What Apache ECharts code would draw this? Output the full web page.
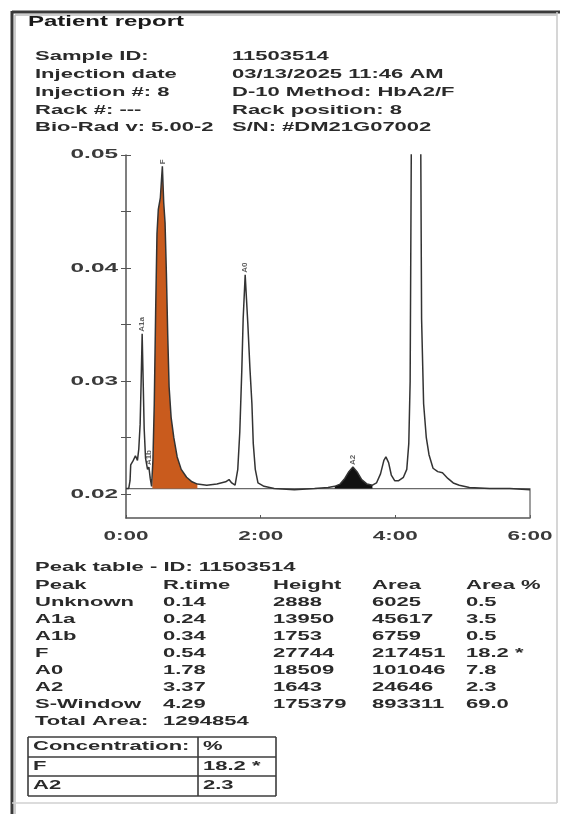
<!DOCTYPE html>
<html><head><meta charset="utf-8">
<script src="https://cdn.jsdelivr.net/npm/echarts@6/dist/echarts.min.js"></script>
<style>html,body{margin:0;padding:0;background:#fff}#c{width:569px;height:814px}</style>
</head><body><div id="c"></div>
<script>
// ---- header info ----
const infoLabels = ['Sample ID:', 'Injection date', 'Injection #: 8', 'Rack #: ---', 'Bio-Rad v: 5.00-2'];
const infoValues = ['11503514', '03/13/2025 11:46 AM', 'D-10 Method: HbA2/F', 'Rack position: 8', 'S/N: #DM21G07002'];

// ---- chromatogram trace (minutes, absorbance) ----
const traceTimes = [0.00,0.04,0.06,0.07,0.10,0.14,0.17,0.19,0.21,0.225,0.24,0.255,0.27,0.29,0.32,0.34,0.36,0.38,0.39,
  0.40,0.42,0.44,0.46,0.48,0.51,0.54,0.56,0.58,0.60,0.62,0.64,0.67,0.71,0.76,0.82,0.90,0.98,1.06,
  1.20,1.35,1.48,1.53,1.57,1.62,1.66,1.69,1.72,1.74,1.77,1.79,1.81,1.84,1.87,1.89,1.92,1.96,2.05,
  2.20,2.50,2.80,3.00,3.10,3.18,3.25,3.31,3.37,3.43,3.50,3.58,3.66,3.72,3.78,3.83,3.86,3.90,3.94,3.99,
  4.05,4.12,4.17,4.20,4.22,4.24,4.29,4.37,4.39,4.42,4.46,4.50,4.56,4.63,4.70,4.78,4.86,4.95,5.10,5.40,5.70,6.00];
const traceValues = [0.0205,0.0205,0.0212,0.0226,0.0229,0.0234,0.0230,0.0240,0.0262,0.0300,0.0342,0.0300,0.0258,0.0232,0.0222,0.0224,0.0214,0.0207,0.0206,
  0.0230,0.0280,0.0360,0.0430,0.0452,0.0462,0.0490,0.0458,0.0440,0.0395,0.0340,0.0295,0.0268,0.0250,0.0233,0.0222,0.0215,0.0211,0.0209,
  0.0208,0.0209,0.0211,0.0213,0.0210,0.0208,0.0222,0.0255,0.0310,0.0355,0.0394,0.0372,0.0350,0.0312,0.0280,0.0245,0.0222,0.0210,0.0207,
  0.0205,0.0204,0.0205,0.0206,0.0207,0.0209,0.0214,0.0220,0.0224,0.0220,0.0213,0.0209,0.0208,0.0210,0.0218,0.0230,0.0233,0.0228,0.0217,0.0212,
  0.0212,0.0215,0.0222,0.0245,0.0300,0.0540,0.1950,0.0600,0.0355,0.0280,0.0250,0.0235,0.0223,0.0220,0.0219,0.0214,0.0210,0.0208,0.0206,0.0205,0.0205,0.0204];
const baselineValue = 0.0205;

// shaded peaks: [start, end] in minutes
const fillNames = ['F', 'A2'];
const fillRanges = [[0.39, 1.06], [3.10, 3.66]];
const fillColors = ['#c95b1d', '#111111'];

// labelled peaks on the chromatogram
const chartPeakLabels = ['A1a', 'A1b', 'F', 'A0', 'A2'];

// ---- axes ----
const xTickValues = [0, 2, 4, 6];
const xTickLabels = ['0:00', '2:00', '4:00', '6:00'];
const yTickValues = [0.02, 0.025, 0.03, 0.035, 0.04, 0.045, 0.05];
const yLabelValues = [0.02, 0.03, 0.04, 0.05];
const yLabelTexts = ['0.02', '0.03', '0.04', '0.05'];

// ---- peak table ----
const peakTableTitle = 'Peak table - ID: 11503514';
const peakHeaders = ['Peak', 'R.time', 'Height', 'Area', 'Area %'];
const peakNames = ['Unknown', 'A1a', 'A1b', 'F', 'A0', 'A2', 'S-Window'];
const peakRTimes = [0.14, 0.24, 0.34, 0.54, 1.78, 3.37, 4.29];
const peakHeights = [2888, 13950, 1753, 27744, 18509, 1643, 175379];
const peakAreas = [6025, 45617, 6759, 217451, 101046, 24646, 893311];
const peakAreaPct = ['0.5', '3.5', '0.5', '18.2 *', '7.8', '2.3', '69.0'];
const totalAreaLabel = 'Total Area:';
const totalArea = 1294854;

// ---- concentration box ----
const concHeader = ['Concentration:', '%'];
const concNames = ['F', 'A2'];
const concValues = ['18.2 *', '2.3'];

// ================= build =================
const Y_MIN = 0.0179, Y_MAX = 0.05;
const SX = 1.76;
const FONT = "'Liberation Sans', Arial, sans-serif";
const INK = '#2a2a2a';
const trace = traceTimes.map((t, i) => [t, traceValues[i]]);

function peakTop(rt) {
  let best = null;
  trace.forEach(p => { if (Math.abs(p[0] - rt) <= 0.035 && (!best || p[1] > best[1])) best = p; });
  return best;
}

const series = [];
series.push({
  type: 'line', name: 'frame', silent: true, symbol: 'none', z: 1,
  data: [[0, baselineValue], [6, baselineValue], [6, Y_MIN]],
  lineStyle: { color: '#6a6a6a', width: 1.3 }
});
fillRanges.forEach((r, i) => {
  series.push({
    type: 'line', name: fillNames[i] + ' area', silent: true, symbol: 'none', z: 2,
    data: trace.filter(p => p[0] >= r[0] && p[0] <= r[1]),
    lineStyle: { width: 0 },
    areaStyle: { color: fillColors[i], opacity: 1, origin: baselineValue }
  });
});
series.push({
  type: 'line', name: 'trace', silent: true, symbol: 'none', z: 3, clip: true,
  data: trace, lineStyle: { color: '#333', width: 1.5 }
});
series.push({
  type: 'scatter', name: 'labels', silent: true, symbolSize: 0, z: 4,
  data: chartPeakLabels.map(n => {
    const p = peakTop(peakRTimes[peakNames.indexOf(n)]);
    return { value: p, name: n };
  }),
  label: {
    show: true, formatter: '{b}', rotate: 90, position: 'top', distance: 2,
    align: 'left', verticalAlign: 'middle',
    fontSize: 8, fontWeight: 'bold', color: '#333', fontFamily: FONT
  }
});

const chart = echarts.init(document.getElementById('c'));
chart.setOption({
  animation: false,
  backgroundColor: '#fff',
  grid: { left: 126, top: 155, right: 39, bottom: 296 },
  xAxis: {
    type: 'value', min: 0, max: 6, interval: 2,
    axisLine: { show: true, lineStyle: { color: '#555', width: 1.5 } },
    axisTick: { show: true, inside: true, length: 3, lineStyle: { color: '#555' } },
    axisLabel: { show: false }, splitLine: { show: false }
  },
  yAxis: [{
    type: 'value', min: Y_MIN, max: Y_MAX,
    axisLine: { show: true, lineStyle: { color: '#555', width: 1.5 } },
    axisTick: { show: true, length: 5, customValues: yTickValues, lineStyle: { color: '#555' } },
    axisLabel: { show: false, customValues: yLabelValues }, splitLine: { show: false }
  }, {
    type: 'value', min: Y_MIN, max: Y_MAX, position: 'left',
    axisLine: { show: false },
    axisTick: { show: true, inside: true, length: 5, customValues: yTickValues, lineStyle: { color: '#555' } },
    axisLabel: { show: false }, splitLine: { show: false }
  }],
  series
});

// ---- text & decorations ----
function txt(x, y, s, o = {}) {
  return {
    type: 'text', x, y, scaleX: o.sx || SX, silent: true, z: 10,
    style: {
      text: s, font: `${o.w || 'bold'} ${o.size || 12.5}px ${FONT}`,
      fill: o.color || INK, align: o.align || 'left', verticalAlign: 'middle'
    }
  };
}
function ln(x1, y1, x2, y2, c, w) {
  return { type: 'line', silent: true, z: 10, shape: { x1, y1, x2, y2 }, style: { stroke: c, lineWidth: w } };
}
const g = [];
// frame
g.push(ln(12, 12, 560, 12, '#3a3a3a', 3));
g.push(ln(12, 11, 12, 814, '#3a3a3a', 3));
g.push(ln(15, 15, 557, 15, '#bdbdbd', 1.5));
g.push(ln(15, 15, 15, 814, '#bdbdbd', 1.5));
g.push(ln(557, 12, 557, 803, '#c8c8c8', 1.5));
g.push(ln(12, 803, 557, 803, '#d0d0d0', 1.5));
// title and header
g.push(txt(28, 22, 'Patient report', { size: 15, sx: 1.6, color: '#1a1a1a' }));
infoLabels.forEach((s, i) => {
  const y = 57 + i * 17.7;
  g.push(txt(35, y, s));
  g.push(txt(232, y, infoValues[i]));
});
// axis labels
yLabelValues.forEach((v, i) => {
  const p = chart.convertToPixel({ xAxisIndex: 0, yAxisIndex: 0 }, [0, v]);
  g.push(txt(p[0] - 8, p[1], yLabelTexts[i], { align: 'right', size: 12.5, sx: 1.95, color: '#3a3a3a' }));
});
xTickValues.forEach((v, i) => {
  const p = chart.convertToPixel({ xAxisIndex: 0, yAxisIndex: 0 }, [v, Y_MIN]);
  g.push(txt(p[0], p[1] + 19, xTickLabels[i], { align: 'center', size: 12.5, sx: 1.8, color: '#3a3a3a' }));
});
// peak table
const colX = [35, 163, 273, 372, 466];
g.push(txt(35, 568, peakTableTitle));
peakHeaders.forEach((h, j) => g.push(txt(colX[j], 585.5, h)));
peakNames.forEach((n, i) => {
  const y = 602.5 + i * 17;
  const cells = [n, peakRTimes[i].toFixed(2), String(peakHeights[i]), String(peakAreas[i]), peakAreaPct[i]];
  cells.forEach((c, j) => g.push(txt(colX[j], y, c)));
});
g.push(txt(35, 721.5, totalAreaLabel));
g.push(txt(163, 721.5, String(totalArea)));
// concentration box
const bx0 = 28, bx1 = 276, bdiv = 198, by = [737, 757, 776, 796];
by.forEach(y => g.push(ln(bx0, y, bx1, y, '#3c3c3c', 1.6)));
[bx0, bdiv, bx1].forEach(x => g.push(ln(x, by[0], x, by[3], '#3c3c3c', 1.6)));
g.push(txt(33, (by[0] + by[1]) / 2, concHeader[0]));
g.push(txt(203, (by[0] + by[1]) / 2, concHeader[1]));
concNames.forEach((n, i) => {
  const y = (by[i + 1] + by[i + 2]) / 2;
  g.push(txt(33, y, n));
  g.push(txt(203, y, concValues[i]));
});
chart.setOption({ graphic: g });
</script></body></html>
